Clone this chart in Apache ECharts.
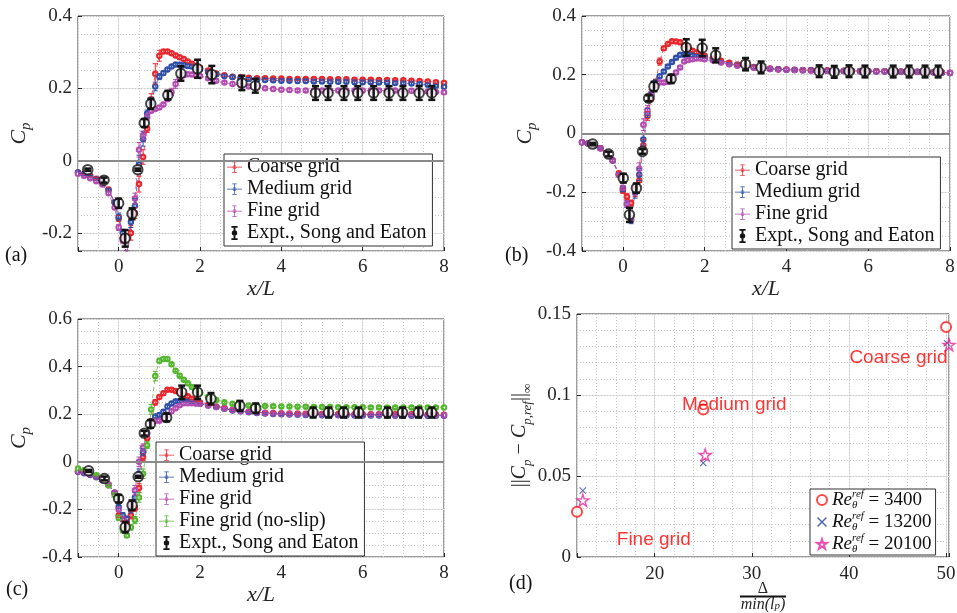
<!DOCTYPE html>
<html><head><meta charset="utf-8">
<script src="https://cdn.jsdelivr.net/npm/echarts@6/dist/echarts.min.js"></script>
<style>html,body{margin:0;padding:0;background:#fff}#c{width:957px;height:613px}</style>
</head><body><div id="c"></div>
<script>
// ---------- DATA ----------
const cfdX = [-1.0,-0.85,-0.7,-0.55,-0.4,-0.25,-0.1,
  0.0,0.1,0.2,0.3,0.4,0.5,0.6,0.7,0.8,0.9,1.0,1.1,1.2,1.3,1.4,1.5,1.6,1.7,1.8,1.9,2.0,
  2.2,2.4,2.6,2.8,3.0,3.2,3.4,3.6,3.8,4.0,4.2,4.4,4.6,4.8,5.0,5.2,5.4,5.6,5.8,6.0,6.2,6.4,6.6,6.8,7.0,7.2,7.4,7.6,7.8,8.0];

// panel (a)
const coarseA = [-0.033,-0.037,-0.042,-0.05,-0.06,-0.08,-0.115,
  -0.16,-0.215,-0.26,-0.2,-0.145,-0.065,0.01,0.088,0.17,0.24,0.29,0.302,0.302,0.297,0.291,0.286,0.281,0.274,0.268,0.262,0.257,
  0.249,0.241,0.236,0.232,0.23,0.229,0.228,0.228,0.227,0.227,0.226,0.226,0.226,0.226,0.226,0.225,0.225,0.225,0.224,0.224,0.224,0.223,0.223,0.222,0.222,0.221,0.22,0.219,0.217,0.215];
const mediumA = [-0.033,-0.038,-0.044,-0.052,-0.06,-0.082,-0.115,
  -0.155,-0.2,-0.26,-0.17,-0.125,-0.01,0.06,0.13,0.16,0.205,0.232,0.242,0.252,0.26,0.266,0.265,0.264,0.262,0.26,0.256,0.253,
  0.245,0.239,0.234,0.231,0.228,0.226,0.224,0.223,0.222,0.221,0.221,0.22,0.22,0.219,0.219,0.218,0.218,0.218,0.217,0.217,0.217,0.216,0.216,0.215,0.214,0.213,0.212,0.21,0.207,0.204];
const fineA = [-0.036,-0.042,-0.049,-0.057,-0.066,-0.09,-0.13,
  -0.185,-0.22,-0.26,-0.15,-0.105,0.03,0.07,0.12,0.138,0.143,0.147,0.155,0.17,0.19,0.212,0.228,0.236,0.239,0.238,0.236,0.234,
  0.228,0.221,0.216,0.212,0.209,0.205,0.202,0.2,0.198,0.196,0.195,0.194,0.194,0.194,0.194,0.194,0.194,0.194,0.194,0.194,0.194,0.194,0.194,0.194,0.194,0.193,0.192,0.191,0.19,0.189];
const errCoarseA = [0.003,0.003,0.003,0.003,0.003,0.004,0.005,
  0.008,0.01,0.01,0.02,0.015,0.022,0.02,0.01,0.015,0.028,0.015,0.005,0.004,0.004,0.004,0.004,0.004,0.004,0.004,0.004,0.004,
  0.004,0.004,0.004,0.004,0.004,0.004,0.004,0.004,0.004,0.004,0.004,0.004,0.004,0.004,0.004,0.004,0.004,0.004,0.004,0.004,0.004,0.004,0.004,0.004,0.004,0.004,0.004,0.004,0.004,0.004];
const errMediumA = [0.003,0.003,0.003,0.003,0.003,0.004,0.005,
  0.01,0.01,0.01,0.015,0.02,0.025,0.02,0.01,0.015,0.012,0.008,0.005,0.004,0.004,0.004,0.004,0.004,0.004,0.004,0.004,0.004,
  0.004,0.004,0.004,0.004,0.004,0.004,0.004,0.004,0.004,0.004,0.004,0.004,0.004,0.004,0.004,0.004,0.004,0.004,0.004,0.004,0.004,0.004,0.004,0.004,0.004,0.004,0.004,0.004,0.004,0.004];
const errFineA = [0.003,0.003,0.003,0.003,0.003,0.004,0.005,
  0.008,0.01,0.01,0.012,0.015,0.02,0.012,0.01,0.006,0.004,0.004,0.004,0.006,0.01,0.012,0.006,0.004,0.004,0.004,0.004,0.004,
  0.004,0.004,0.004,0.004,0.004,0.004,0.004,0.004,0.004,0.004,0.004,0.004,0.004,0.004,0.004,0.004,0.004,0.004,0.004,0.004,0.004,0.004,0.004,0.004,0.004,0.004,0.004,0.004,0.004,0.004];
const exptXA = [-0.76,-0.36,0.0,0.16,0.33,0.47,0.63,0.79,1.21,1.53,1.94,2.29,3.03,3.36,4.84,5.15,5.54,5.88,6.27,6.65,6.99,7.39,7.7];
const exptYA = [-0.025,-0.054,-0.118,-0.215,-0.147,-0.025,0.104,0.157,0.181,0.241,0.254,0.238,0.215,0.207,0.187,0.187,0.187,0.187,0.187,0.187,0.187,0.187,0.187];
const exptEA = [0.003,0.007,0.013,0.023,0.015,0.003,0.011,0.014,0.012,0.02,0.025,0.024,0.02,0.019,0.019,0.019,0.019,0.019,0.019,0.019,0.019,0.019,0.019];

// panel (b)
const coarseB = [-0.03,-0.034,-0.04,-0.05,-0.066,-0.092,-0.135,
  -0.195,-0.215,-0.237,-0.2,-0.16,-0.04,0.06,0.12,0.175,0.245,0.29,0.305,0.314,0.313,0.311,0.3,0.29,0.282,0.276,0.27,0.265,
  0.255,0.248,0.241,0.235,0.229,0.226,0.223,0.221,0.219,0.218,0.217,0.216,0.216,0.215,0.215,0.214,0.214,0.213,0.213,0.213,0.212,0.212,0.212,0.211,0.211,0.21,0.21,0.209,0.208,0.207];
const mediumB = [-0.03,-0.034,-0.04,-0.05,-0.066,-0.092,-0.14,
  -0.19,-0.24,-0.295,-0.2,-0.14,-0.02,0.07,0.13,0.175,0.195,0.211,0.228,0.243,0.258,0.268,0.268,0.268,0.266,0.264,0.262,0.26,
  0.251,0.243,0.237,0.232,0.228,0.225,0.222,0.22,0.219,0.217,0.216,0.215,0.215,0.214,0.214,0.213,0.213,0.212,0.212,0.212,0.211,0.211,0.211,0.21,0.21,0.21,0.209,0.208,0.207,0.206];
const fineB = [-0.03,-0.034,-0.04,-0.05,-0.066,-0.092,-0.14,
  -0.185,-0.24,-0.29,-0.19,-0.12,0.03,0.08,0.14,0.165,0.174,0.174,0.176,0.19,0.208,0.225,0.245,0.25,0.253,0.255,0.255,0.253,
  0.249,0.242,0.236,0.231,0.227,0.224,0.222,0.22,0.218,0.217,0.216,0.215,0.214,0.214,0.213,0.213,0.213,0.212,0.212,0.212,0.211,0.211,0.211,0.21,0.21,0.209,0.209,0.208,0.207,0.206];
const errCoarseB = [0.003,0.003,0.003,0.003,0.004,0.004,0.006,
  0.008,0.01,0.01,0.015,0.02,0.02,0.015,0.01,0.01,0.012,0.006,0.004,0.004,0.004,0.004,0.004,0.004,0.004,0.004,0.004,0.004,
  0.004,0.004,0.004,0.004,0.004,0.004,0.004,0.004,0.004,0.004,0.004,0.004,0.004,0.004,0.004,0.004,0.004,0.004,0.004,0.004,0.004,0.004,0.004,0.004,0.004,0.004,0.004,0.004,0.004,0.004];
const errMediumB = [0.003,0.003,0.003,0.003,0.004,0.004,0.006,
  0.008,0.012,0.012,0.02,0.02,0.02,0.015,0.01,0.008,0.006,0.005,0.005,0.004,0.004,0.004,0.004,0.004,0.004,0.004,0.004,0.004,
  0.004,0.004,0.004,0.004,0.004,0.004,0.004,0.004,0.004,0.004,0.004,0.004,0.004,0.004,0.004,0.004,0.004,0.004,0.004,0.004,0.004,0.004,0.004,0.004,0.004,0.004,0.004,0.004,0.004,0.004];
const errFineB = [0.003,0.003,0.003,0.003,0.004,0.004,0.006,
  0.008,0.012,0.012,0.02,0.02,0.02,0.015,0.01,0.006,0.004,0.004,0.004,0.005,0.006,0.005,0.004,0.004,0.004,0.004,0.004,0.004,
  0.004,0.004,0.004,0.004,0.004,0.004,0.004,0.004,0.004,0.004,0.004,0.004,0.004,0.004,0.004,0.004,0.004,0.004,0.004,0.004,0.004,0.004,0.004,0.004,0.004,0.004,0.004,0.004,0.004,0.004];
const exptXB = [-0.74,-0.35,0.01,0.16,0.33,0.48,0.63,0.76,1.18,1.55,1.94,2.27,3.0,3.38,4.8,5.17,5.53,5.92,6.61,7.0,7.39,7.71];
const exptYB = [-0.036,-0.07,-0.152,-0.277,-0.186,-0.061,0.12,0.16,0.186,0.293,0.291,0.266,0.236,0.225,0.212,0.21,0.212,0.211,0.211,0.211,0.211,0.211];
const exptEB = [0.004,0.008,0.015,0.024,0.016,0.008,0.01,0.016,0.014,0.028,0.028,0.024,0.021,0.02,0.02,0.02,0.02,0.02,0.02,0.02,0.02,0.02];

// panel (c)
const coarseC = [-0.04,-0.045,-0.052,-0.062,-0.075,-0.095,-0.13,
  -0.225,-0.24,-0.255,-0.225,-0.195,-0.11,0.02,0.1,0.17,0.25,0.272,0.288,0.303,0.303,0.298,0.289,0.282,0.275,0.265,0.256,0.249,
  0.24,0.232,0.226,0.219,0.214,0.211,0.208,0.206,0.205,0.204,0.203,0.203,0.202,0.202,0.201,0.201,0.201,0.2,0.2,0.2,0.2,0.2,0.2,0.2,0.2,0.2,0.2,0.199,0.199,0.198];
const mediumC = [-0.042,-0.048,-0.055,-0.065,-0.078,-0.098,-0.13,
  -0.19,-0.225,-0.24,-0.2,-0.15,-0.05,0.04,0.12,0.17,0.19,0.197,0.21,0.232,0.245,0.254,0.254,0.254,0.252,0.249,0.246,0.244,
  0.237,0.23,0.223,0.216,0.212,0.208,0.205,0.203,0.201,0.2,0.199,0.198,0.197,0.197,0.196,0.196,0.196,0.195,0.195,0.195,0.195,0.195,0.195,0.194,0.194,0.194,0.194,0.194,0.194,0.194];
const fineC = [-0.04,-0.045,-0.052,-0.062,-0.075,-0.095,-0.13,
  -0.2,-0.24,-0.28,-0.18,-0.12,0.0,0.06,0.12,0.165,0.172,0.173,0.18,0.197,0.212,0.225,0.238,0.246,0.246,0.246,0.245,0.244,
  0.237,0.23,0.224,0.218,0.213,0.21,0.207,0.205,0.203,0.202,0.201,0.2,0.2,0.199,0.199,0.199,0.198,0.198,0.198,0.198,0.198,0.198,0.197,0.197,0.197,0.197,0.197,0.197,0.196,0.196];
const noSlipC = [-0.028,-0.035,-0.045,-0.056,-0.07,-0.1,-0.14,
  -0.235,-0.285,-0.31,-0.275,-0.245,-0.15,-0.05,0.07,0.22,0.36,0.425,0.432,0.432,0.41,0.383,0.362,0.345,0.33,0.314,0.3,0.289,
  0.272,0.26,0.25,0.244,0.24,0.237,0.235,0.234,0.233,0.232,0.232,0.231,0.231,0.23,0.23,0.23,0.229,0.229,0.229,0.229,0.228,0.228,0.228,0.228,0.228,0.228,0.228,0.228,0.228,0.228];
const errCoarseC = [0.003,0.003,0.003,0.003,0.004,0.004,0.006,
  0.008,0.01,0.01,0.015,0.012,0.018,0.015,0.01,0.01,0.012,0.006,0.005,0.004,0.004,0.004,0.004,0.004,0.004,0.004,0.004,0.004,
  0.004,0.004,0.004,0.004,0.004,0.004,0.004,0.004,0.004,0.004,0.004,0.004,0.004,0.004,0.004,0.004,0.004,0.004,0.004,0.004,0.004,0.004,0.004,0.004,0.004,0.004,0.004,0.004,0.004,0.004];
const errMediumC = [0.003,0.003,0.003,0.003,0.004,0.004,0.006,
  0.008,0.012,0.012,0.015,0.02,0.02,0.015,0.01,0.008,0.006,0.005,0.006,0.01,0.006,0.004,0.004,0.004,0.004,0.004,0.004,0.004,
  0.004,0.004,0.004,0.004,0.004,0.004,0.004,0.004,0.004,0.004,0.004,0.004,0.004,0.004,0.004,0.004,0.004,0.004,0.004,0.004,0.004,0.004,0.004,0.004,0.004,0.004,0.004,0.004,0.004,0.004];
const errFineC = [0.003,0.003,0.003,0.003,0.004,0.004,0.006,
  0.008,0.012,0.012,0.02,0.02,0.02,0.015,0.01,0.006,0.004,0.004,0.004,0.006,0.008,0.006,0.004,0.004,0.004,0.004,0.004,0.004,
  0.004,0.004,0.004,0.004,0.004,0.004,0.004,0.004,0.004,0.004,0.004,0.004,0.004,0.004,0.004,0.004,0.004,0.004,0.004,0.004,0.004,0.004,0.004,0.004,0.004,0.004,0.004,0.004,0.004,0.004];
const errNoSlipC = [0.003,0.003,0.003,0.003,0.004,0.004,0.006,
  0.01,0.012,0.008,0.012,0.015,0.02,0.02,0.015,0.02,0.02,0.01,0.005,0.005,0.004,0.004,0.004,0.004,0.004,0.004,0.004,0.004,
  0.004,0.004,0.004,0.004,0.004,0.004,0.004,0.004,0.004,0.004,0.004,0.004,0.004,0.004,0.004,0.004,0.004,0.004,0.004,0.004,0.004,0.004,0.004,0.004,0.004,0.004,0.004,0.004,0.004,0.004];
const exptXC = [-0.74,-0.35,0.0,0.16,0.33,0.48,0.63,0.78,1.18,1.55,1.94,2.27,2.98,3.37,4.78,5.16,5.53,5.9,6.61,6.98,7.37,7.7];
const exptYC = [-0.038,-0.07,-0.155,-0.275,-0.183,-0.063,0.12,0.159,0.186,0.292,0.292,0.265,0.235,0.225,0.207,0.207,0.207,0.207,0.207,0.207,0.207,0.207];
const exptEC = [0.004,0.008,0.016,0.022,0.02,0.004,0.01,0.016,0.016,0.028,0.028,0.024,0.021,0.02,0.021,0.021,0.021,0.021,0.021,0.021,0.021,0.021];

// panel (d)
const dX3400 = [12.0, 25.0, 50.0];
const dY3400 = [0.028, 0.091, 0.142];
const dX13200 = [12.6, 25.0, 50.1];
const dY13200 = [0.041, 0.058, 0.132];
const dX20100 = [12.6, 25.2, 50.3];
const dY20100 = [0.035, 0.063, 0.131];
const annotText = ['Coarse grid', 'Medium grid', 'Fine grid'];
const annotX = [45.1, 28.2, 19.9];
const annotY = [0.123, 0.094, 0.0105];

// ---------- STYLE ----------
const SERIF = "'Liberation Serif','Times New Roman',serif";
const SANS = "'Liberation Sans',Arial,sans-serif";
const AX = '#262626';
const C_COARSE = '#e8262b', C_MED = '#2f4ea8', C_FINE = '#b34bb0', C_NOSLIP = '#55b52f', C_EXPT = '#141414';
const ICON_ERR = 'path://M0,9.5L20,9.5L20,10.5L0,10.5Z M9.5,3L10.5,3L10.5,17L9.5,17Z M7,2.5L13,2.5L13,3.5L7,3.5Z M7,16.5L13,16.5L13,17.5L7,17.5Z M12.5,10A2.5,2.5,0,1,1,7.5,10A2.5,2.5,0,1,1,12.5,10Z M11.6,10A1.6,1.6,0,1,0,8.4,10A1.6,1.6,0,1,0,11.6,10Z';
const ICON_EXPT = 'path://M8.8,2L11.2,2L11.2,18L8.8,18Z M6,1L14,1L14,3.4L6,3.4Z M6,16.6L14,16.6L14,19L6,19Z M13.5,10A3.5,3.5,0,1,1,6.5,10A3.5,3.5,0,1,1,13.5,10Z';
const SYM_X = 'path://M0,1L1,0L5,4L9,0L10,1L6,5L10,9L9,10L5,6L1,10L0,9L4,5Z';
const SYM_STAR = 'path://M10,0L12.23,6.93L19.51,6.91L13.61,11.17L15.88,18.09L10,13.8L4.12,18.09L6.39,11.17L0.49,6.91L7.77,6.93Z';

const grids = [
  {left:78, top:16, width:366, height:235},
  {left:582, top:16, width:368, height:235},
  {left:78, top:319, width:366, height:238},
  {left:577, top:314, width:372, height:243}
].map(g => Object.assign({show:true, borderColor:'#3a3a3a', borderWidth:1, backgroundColor:'transparent', containLabel:false, outerBoundsMode:'none'}, g));

const cpName = {
  name:'{i|C}{s|p}', nameLocation:'middle', nameRotate:90,
  nameTextStyle:{color:AX, rich:{
    i:{fontFamily:SERIF, fontStyle:'italic', fontSize:22, lineHeight:30, verticalAlign:'middle', color:AX},
    s:{fontFamily:SERIF, fontStyle:'italic', fontSize:15, lineHeight:15, verticalAlign:'bottom', color:AX}
  }}
};
const xlName = {name:'x/L', nameLocation:'middle', nameTextStyle:{fontFamily:SERIF, fontStyle:'italic', fontSize:22, color:AX}};
const TICK_FS = 19;

function fmtX(v){ return Math.abs(v/2 - Math.round(v/2)) < 1e-6 ? String(v) : ''; }
function fmtY02(v){ if (Math.abs(v*5 - Math.round(v*5)) > 1e-6) return ''; return Math.abs(v) < 1e-9 ? '0' : v.toFixed(1); }
function fmtD(v){ return Math.abs(v/10 - Math.round(v/10)) < 1e-6 ? String(v) : ''; }

function mainAxis(gi, min, max, extra) {
  return Object.assign({
    type:'value', gridIndex:gi, min, max,
    axisLine:{show:false, onZero:false},
    axisTick:{show:true, inside:true, length:4, lineStyle:{color:AX}},
    axisLabel:{show:true, color:AX, fontFamily:SERIF, fontSize:TICK_FS, margin:8},
    splitLine:{show:true, lineStyle:{color:'#e3e3e3', width:1}}
  }, extra);
}
function minorAxis(gi, min, max, interval, pos) {
  return {type:'value', gridIndex:gi, min, max, interval, position:pos,
    axisLine:{show:false, onZero:false}, axisTick:{show:false}, axisLabel:{show:false},
    splitLine:{show:true, lineStyle:{color:'#c9c9c9', type:[1,2], width:1}}};
}
function lab(fmt, margin){ const o = {color:AX, fontFamily:SERIF, fontSize:TICK_FS, margin}; if (fmt) o.formatter = fmt; return o; }

const xAxes = [
  mainAxis(0, -1, 8, Object.assign({splitNumber:5, axisLabel:lab(fmtX, 7), nameGap:20}, xlName)),
  mainAxis(1, -1, 8, Object.assign({splitNumber:5, axisLabel:lab(fmtX, 7), nameGap:21}, xlName)),
  mainAxis(2, -1, 8, Object.assign({splitNumber:5, axisLabel:lab(fmtX, 7), nameGap:16}, xlName)),
  mainAxis(3, 12, 50.3, {splitNumber:4, axisLabel:lab(fmtD, 8),
    name:'{num|Δ}\n{bar|}\n{den|min(l}{dsub|p}{den|)}', nameLocation:'middle', nameGap:25, nameMoveOverlap:false,
    nameTextStyle:{align:'center', verticalAlign:'top', rich:{
      num:{fontFamily:SERIF, fontSize:16, lineHeight:13, color:AX, align:'center'},
      bar:{width:46, height:2, fontSize:1, lineHeight:3, backgroundColor:'#111', align:'center'},
      den:{fontFamily:SERIF, fontStyle:'italic', fontSize:16, lineHeight:14, color:AX, align:'center'},
      dsub:{fontFamily:SERIF, fontStyle:'italic', fontSize:11, lineHeight:11, verticalAlign:'bottom', color:AX, align:'center'}
    }}}),
  minorAxis(0, -1, 8, 0.5, 'top'),
  minorAxis(1, -1, 8, 0.5, 'top'),
  minorAxis(2, -1, 8, 0.5, 'top'),
  minorAxis(3, 12, 50.3, 2, 'top')
];
const yAxes = [
  mainAxis(0, -0.25, 0.4, Object.assign({splitNumber:3, axisLabel:lab(fmtY02, 6), nameGap:44}, cpName)),
  mainAxis(1, -0.4, 0.4, Object.assign({interval:0.2, axisLabel:lab(fmtY02, 6), nameGap:42}, cpName)),
  mainAxis(2, -0.4, 0.6, Object.assign({interval:0.2, axisLabel:lab(fmtY02, 6), nameGap:44}, cpName)),
  mainAxis(3, 0, 0.15, {interval:0.05, axisLabel:lab(null, 6),
    name:'{n|||}{i|C}{s|p}{n| − }{i|C}{s|p,ref}{n|||}{s|∞}', nameLocation:'middle', nameRotate:90, nameGap:38,
    nameTextStyle:{rich:{
      n:{fontFamily:SERIF, fontSize:20, lineHeight:28, verticalAlign:'middle', color:AX},
      i:{fontFamily:SERIF, fontStyle:'italic', fontSize:20, lineHeight:28, verticalAlign:'middle', color:AX},
      s:{fontFamily:SERIF, fontStyle:'italic', fontSize:13, lineHeight:13, verticalAlign:'bottom', color:AX}
    }}}),
  minorAxis(0, -0.25, 0.4, 0.05, 'right'),
  minorAxis(1, -0.4, 0.4, 0.05, 'right'),
  minorAxis(2, -0.4, 0.6, 0.05, 'right'),
  minorAxis(3, 0, 0.15, 0.01, 'right')
];

function errSeries(gi, xs, ys, es, color, lw, cap, z) {
  return {
    type:'custom', xAxisIndex:gi, yAxisIndex:gi, z, clip:true, silent:true,
    data: xs.map((x, i) => [x, ys[i], es[i]]),
    encode:{x:0, y:1},
    renderItem: (params, api) => {
      const x = api.value(0), y = api.value(1), e = api.value(2);
      const t = api.coord([x, y + e]), b = api.coord([x, y - e]);
      const st = {stroke: color, lineWidth: lw, fill: null};
      return {type:'group', children:[
        {type:'line', shape:{x1:t[0], y1:t[1], x2:b[0], y2:b[1]}, style:st},
        {type:'line', shape:{x1:t[0]-cap, y1:t[1], x2:t[0]+cap, y2:t[1]}, style:st},
        {type:'line', shape:{x1:b[0]-cap, y1:b[1], x2:b[0]+cap, y2:b[1]}, style:st}
      ]};
    }
  };
}
function cfdSeries(name, gi, ys, es, color, withZero) {
  const s = {
    type:'line', name, xAxisIndex:gi, yAxisIndex:gi, z:2, clip:true,
    data: cfdX.map((x, i) => [x, ys[i]]),
    symbol:'emptyCircle', symbolSize:4.5, showSymbol:true,
    itemStyle:{color, borderWidth:1},
    lineStyle:{color, width:1, type:[4,3], opacity:0.75}
  };
  if (withZero) s.markLine = {silent:true, symbol:['none','none'], label:{show:false},
    lineStyle:{color:'#8a8a8a', width:2, type:'solid'}, data:[{yAxis:0}], animation:false};
  return [s, errSeries(gi, cfdX, ys, es, color, 1, 2.5, 3)];
}
function exptSeries(gi, xs, ys, es) {
  return [
    {type:'scatter', name:'Expt., Song and Eaton', xAxisIndex:gi, yAxisIndex:gi, z:4,
      data: xs.map((x, i) => [x, ys[i]]), symbol:'emptyCircle', symbolSize:9.5,
      itemStyle:{color:C_EXPT, borderWidth:2}},
    errSeries(gi, xs, ys, es, C_EXPT, 2.5, 3.5, 5)
  ];
}

const series = [].concat(
  cfdSeries('Coarse grid', 0, coarseA, errCoarseA, C_COARSE, true),
  cfdSeries('Medium grid', 0, mediumA, errMediumA, C_MED),
  cfdSeries('Fine grid', 0, fineA, errFineA, C_FINE),
  exptSeries(0, exptXA, exptYA, exptEA),
  cfdSeries('Coarse grid', 1, coarseB, errCoarseB, C_COARSE, true),
  cfdSeries('Medium grid', 1, mediumB, errMediumB, C_MED),
  cfdSeries('Fine grid', 1, fineB, errFineB, C_FINE),
  exptSeries(1, exptXB, exptYB, exptEB),
  cfdSeries('Coarse grid', 2, coarseC, errCoarseC, C_COARSE, true),
  cfdSeries('Medium grid', 2, mediumC, errMediumC, C_MED),
  cfdSeries('Fine grid', 2, fineC, errFineC, C_FINE),
  cfdSeries('Fine grid (no-slip)', 2, noSlipC, errNoSlipC, C_NOSLIP),
  exptSeries(2, exptXC, exptYC, exptEC),
  [
    {type:'scatter', name:'Re3400', xAxisIndex:3, yAxisIndex:3, z:4, data:dX3400.map((x,i)=>[x, dY3400[i]]),
      symbol:'emptyCircle', symbolSize:10, itemStyle:{color:'#ff1a1a', borderWidth:1.3}},
    {type:'scatter', name:'Re13200', xAxisIndex:3, yAxisIndex:3, z:4, data:dX13200.map((x,i)=>[x, dY13200[i]]),
      symbol:SYM_X, symbolSize:7, itemStyle:{color:'#1f3d9e'}},
    {type:'scatter', name:'Re20100', xAxisIndex:3, yAxisIndex:3, z:4, data:dX20100.map((x,i)=>[x, dY20100[i]]),
      symbol:SYM_STAR, symbolSize:12, itemStyle:{color:'rgba(255,255,255,0)', borderColor:'#e8259b', borderWidth:1.4}},
    {type:'scatter', name:'annot', xAxisIndex:3, yAxisIndex:3, z:6, silent:true,
      data: annotText.map((t,i)=>({name:t, value:[annotX[i], annotY[i]]})),
      symbol:'circle', symbolSize:1, itemStyle:{color:'rgba(0,0,0,0)'},
      label:{show:true, position:'inside', formatter:'{b}', color:'#ff0000', fontFamily:SANS, fontSize:19}}
  ]
);

const legendBase = {
  orient:'vertical', selectedMode:false, padding:[3,6,3,3], itemGap:2, itemWidth:15, itemHeight:14,
  backgroundColor:'#fff', borderColor:'#333', borderWidth:1,
  textStyle:{fontFamily:SERIF, fontSize:20, color:'#111', lineHeight:20}
};
function li(name, color, icon) { return {name, icon, itemStyle:{color, borderWidth:0, opacity:1}}; }
const legendCfd = [li('Coarse grid', C_COARSE, ICON_ERR), li('Medium grid', C_MED, ICON_ERR), li('Fine grid', C_FINE, ICON_ERR)];
const reLabels = {Re3400:'{i|Re}{sub|θ}{sup|ref}{n| = 3400}', Re13200:'{i|Re}{sub|θ}{sup|ref}{n| = 13200}', Re20100:'{i|Re}{sub|θ}{sup|ref}{n| = 20100}'};
const legends = [
  Object.assign({}, legendBase, {left:224, top:154, data: legendCfd.concat([li('Expt., Song and Eaton', C_EXPT, ICON_EXPT)])}),
  Object.assign({}, legendBase, {left:732, top:157, data: legendCfd.concat([li('Expt., Song and Eaton', C_EXPT, ICON_EXPT)])}),
  Object.assign({}, legendBase, {left:156, top:442, data: legendCfd.concat([li('Fine grid (no-slip)', C_NOSLIP, ICON_ERR), li('Expt., Song and Eaton', C_EXPT, ICON_EXPT)])}),
  Object.assign({}, legendBase, {left:810, top:489, itemWidth:10, itemHeight:10, itemGap:0, padding:[0,4,0,6],
    data:[{name:'Re3400'}, {name:'Re13200'}, {name:'Re20100'}],
    formatter: n => reLabels[n],
    textStyle:{fontFamily:SERIF, fontSize:19, color:'#111', lineHeight:22, rich:{
      i:{fontFamily:SERIF, fontStyle:'italic', fontSize:19, lineHeight:22, verticalAlign:'middle', color:'#111'},
      sup:{fontFamily:SERIF, fontStyle:'italic', fontSize:11, lineHeight:9, verticalAlign:'top', color:'#111'},
      sub:{fontFamily:SERIF, fontStyle:'italic', fontSize:11, lineHeight:9, verticalAlign:'bottom', color:'#111', width:0},
      n:{fontFamily:SERIF, fontSize:19, lineHeight:22, verticalAlign:'middle', color:'#111'}
    }}})
];

const panelLabels = [['(a)', 5, 246], ['(b)', 505, 246], ['(c)', 6, 580], ['(d)', 509, 574]];

const chart = echarts.init(document.getElementById('c'), null, {renderer:'canvas'});
chart.setOption({
  animation:false,
  backgroundColor:'#fff',
  grid: grids,
  xAxis: xAxes,
  yAxis: yAxes,
  legend: legends,
  series,
  graphic: panelLabels.map(p => ({type:'text', left:p[1], top:p[2], silent:true,
    style:{text:p[0], fontFamily:SERIF, fontSize:20, fill:'#111'}}))
});
</script></body></html>
